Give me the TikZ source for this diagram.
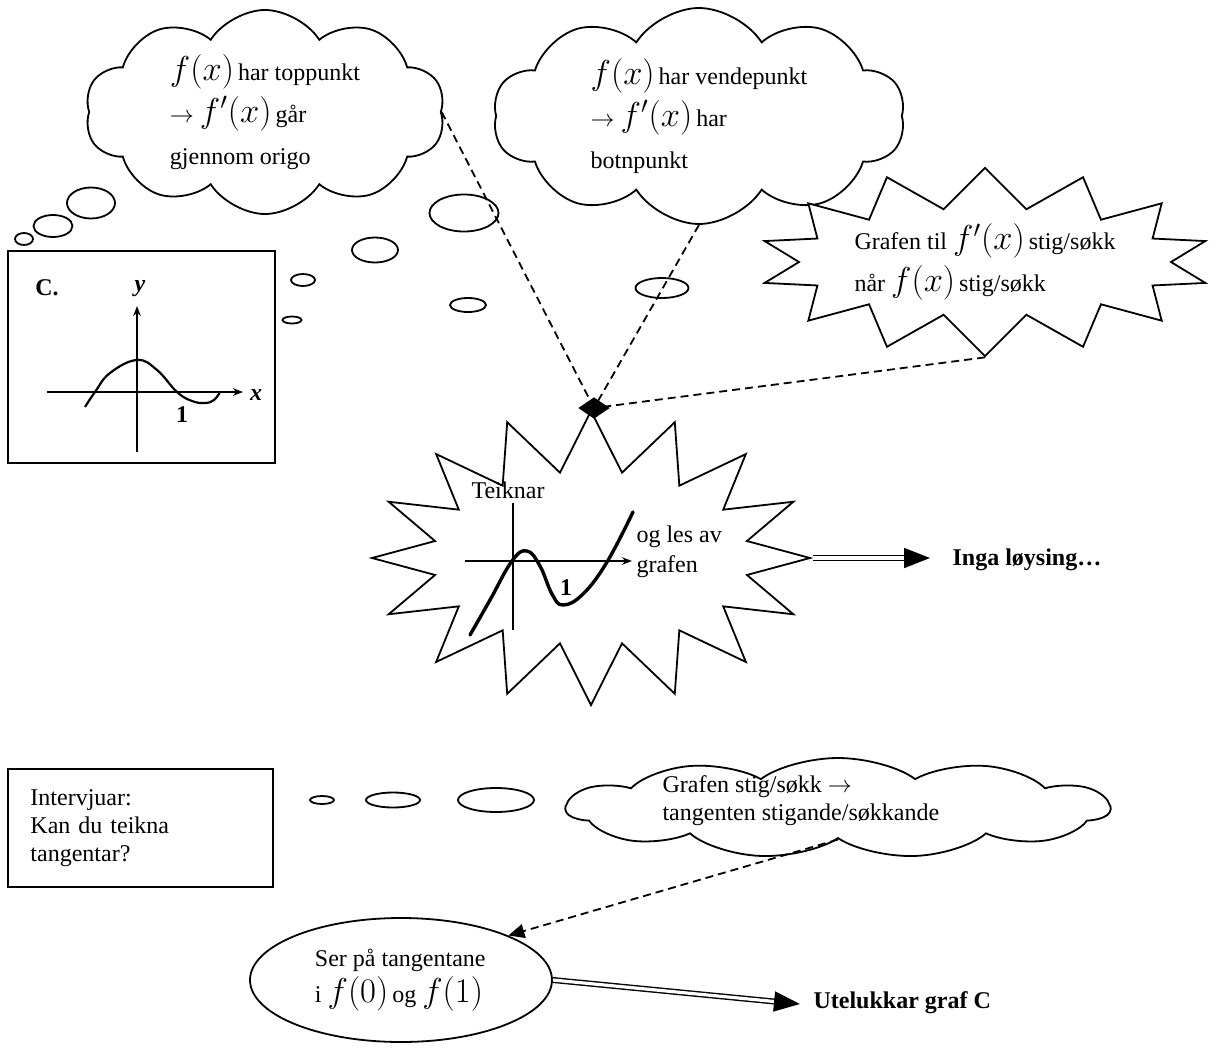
\documentclass[tikz,border=0pt]{standalone}
\usepackage{fontspec}
\setmainfont{Liberation Serif}
\usetikzlibrary{shapes.symbols,shapes.geometric,arrows.meta,calc}

\newcommand{\fx}[1]{{\LARGE$f\bigl(#1\bigr)$}\,}
\newcommand{\fdx}[1]{{\LARGE$f'\bigl(#1\bigr)$}\,}

\begin{document}
\begin{tikzpicture}[x=0.5pt, y=-0.5pt, line width=0.9pt, font=\fontsize{12}{14}\selectfont,
  tanke/.style={cloud, draw, cloud puffs=10, cloud puff arc=115, inner sep=0pt, align=left},
  stjerne/.style={starburst, draw, fill=white, random starburst=0, inner sep=0pt, align=left},
  boks/.style={draw, line width=1.4pt, inner sep=0pt},
  stipla/.style={dash pattern=on 4pt off 2.5pt},
  dobbel/.style={double, double distance=1.6pt, line width=0.7pt},
  spiss/.style={-{Triangle[length=13pt,width=10pt]}}
]
\useasboundingbox (0,0) rectangle (1217,1050);

% Thought clouds (top)
\node[tanke, minimum width=180pt, minimum height=102pt, aspect=1.75,
  font=\fontsize{12}{21}\selectfont] (tanke1) at (265,112)
  {\fx{x}har toppunkt\\ $\rightarrow$ \fdx{x}går\\ gjennom origo};
\node[tanke, minimum width=206pt, minimum height=108pt, aspect=1.9,
  font=\fontsize{12}{21}\selectfont] (tanke2) at (699,116)
  {\fx{x}har vendepunkt\\ $\rightarrow$ \fdx{x}har\\ botnpunkt};

% Starburst (top right)
\node[stjerne, minimum width=226pt, minimum height=85pt, starburst points=14,
  starburst point height=20pt, font=\fontsize{12}{21}\selectfont] (stjerne1) at (985,262)
  {Grafen til \fdx{x}stig/søkk\\ når \fx{x}stig/søkk};

% Small bubbles
\foreach \x/\y/\a/\b in {91/203/24/15.5, 53/226/19.5/11, 24/239/9/6,
  464/213/34.5/18.5, 375/250/23/12.5, 303/280/12/6, 292/320/9.5/3.5,
  468/305/18/7, 662/288/26.5/10, 322/800/12/4, 393/800/27/7.5, 496/800/38/12}
  \draw (\x,\y) ellipse ({\a} and {\b});

% Graph C
\node[boks, minimum width=133.5pt, minimum height=106pt] (grafC) at (141.5,357) {};
\node[font=\fontsize{12}{14}\selectfont\bfseries] (cnamn) at (47,288) {C.};
\node (ylab) at (140,289) {\textbf{\textit{y}}};
\node (xlab) at (256,395) {\textbf{\textit{x}}};
\node (ceit) at (182,415) {\textbf{1}};
\draw[line width=0.8pt, -{Stealth[length=5pt]}] (47,392) -- (243,392);
\draw[line width=0.8pt, -{Stealth[length=5pt]}] (137,452) -- (137,306);
\draw[line width=1.1pt] plot[smooth, tension=0.7] coordinates {(85,407) (95,392) (110,373)
  (137,360) (157,370) (177,392) (192,401) (205,403) (214,400) (220,392)};

% Central starburst
\node[stjerne, minimum width=219pt, minimum height=147pt, starburst points=16,
  starburst point height=30pt] (stjerne2) at (591,558) {};
\node (teiknar) at (508,490) {Teiknar};
\node[anchor=west] (lesav) at (629,537) {og les av};
\node[anchor=west] (grafen) at (629,567) {grafen};
\draw[line width=0.8pt] (513,630) -- (513,503);
\draw[line width=0.8pt, -{Stealth[length=5pt]}] (465,561) -- (632,561);
\draw[line width=1.7pt, line cap=round] plot[smooth, tension=0.7] coordinates {(470,635)
  (490,600) (512,561) (527,551) (540,566) (552,594) (563,605) (583,594) (607,562) (633,512)};
\node (teit) at (566,588) {\textbf{1}};

% Dashed lines to the tip
\draw[stipla] (tanke1.east) -- (594,408) coordinate (tip);
\draw[stipla] (tanke2.south) -- (tip);
\draw[stipla] (stjerne1.south) -- (tip);
\node[diamond, fill, inner sep=0pt, minimum width=16pt, minimum height=11pt] (tipp) at (tip) {};

% Result
\coordinate (ingapil) at (930,558);
\node[anchor=west, font=\fontsize{12}{14}\selectfont\bfseries] (inga) at (945,560) {Inga løysing…};
\draw[dobbel] (stjerne2.east) -- ([xshift=-12pt]ingapil);
\draw[spiss] ([xshift=-13pt]ingapil) -- (ingapil);

% Interviewer
\node[boks, minimum width=132.5pt, minimum height=59pt, text width=110pt, align=left]
  (intervju) at (140.5,828) {Intervjuar:\\ Kan du teikna\\ tangentar?};

% Thought cloud (bottom), stretched sideways
\begin{scope}[shift={(838,808)}, xscale=2]
  \node[tanke, transform shape, cloud puffs=11, minimum width=136pt, minimum height=50pt,
    aspect=2.72] (tanke3) at (0,0) {};
\end{scope}
\node[anchor=west, align=left] (tanketekst) at (655,801)
  {Grafen stig/søkk $\rightarrow$\\ tangenten stigande/søkkande};

% Ellipse
\node[ellipse, draw, minimum width=151pt, minimum height=62pt, inner sep=0pt, align=left,
  font=\fontsize{12}{18}\selectfont] (seer) at (401,980)
  {Ser på tangentane\\ i \fx{0}og \fx{1}};
\draw[stipla, -{Triangle[length=8pt,width=7pt]}] (tanke3.south) -- (seer.north east);

% Conclusion
\coordinate (utelpil) at (800,1004);
\node[anchor=west, font=\fontsize{12}{14}\selectfont\bfseries] (utel) at (806,1003) {Utelukkar graf C};
\draw[dobbel] (seer.east) -- ($(utelpil)!12pt!(seer.east)$);
\draw[spiss] ($(utelpil)!13pt!(seer.east)$) -- (utelpil);

\end{tikzpicture}
\end{document}
